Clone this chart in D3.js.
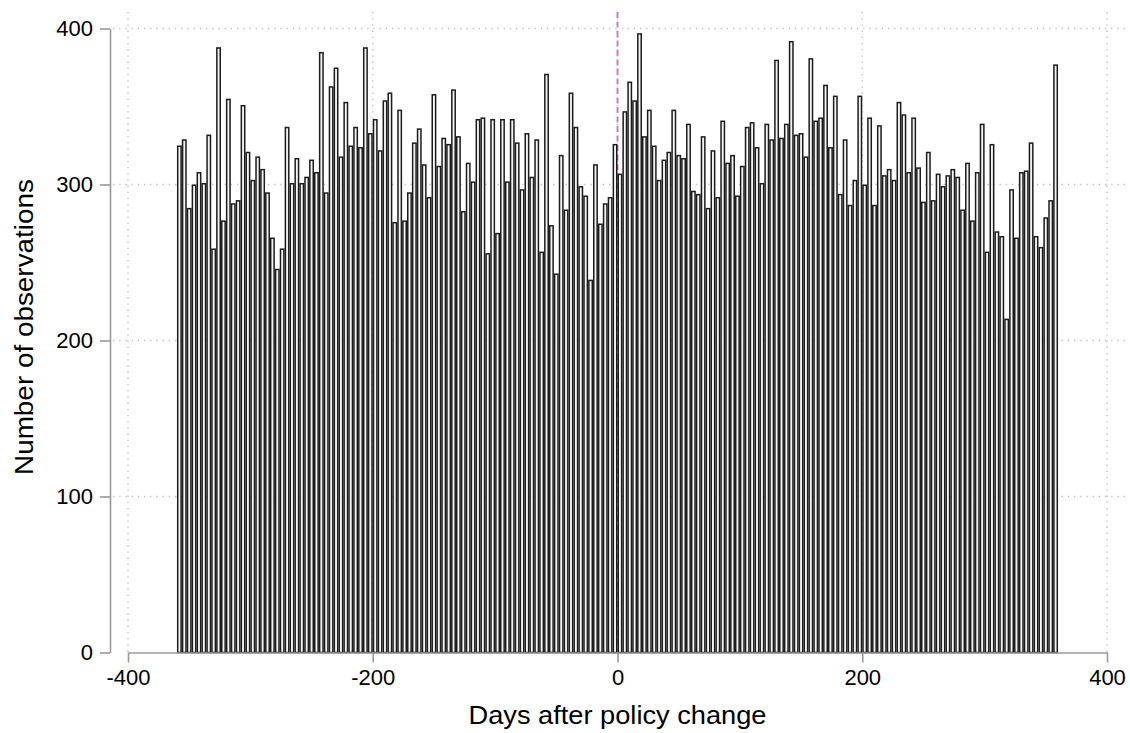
<!DOCTYPE html>
<html>
<head>
<meta charset="utf-8">
<script src="https://cdn.jsdelivr.net/npm/d3@7"></script>
<style>
  html, body { margin: 0; padding: 0; background: #fff; }
  svg { display: block; font-family: "Liberation Sans", Arial, sans-serif; }
</style>
</head>
<body>
<svg id="chart" width="1130" height="733"></svg>
<script>
// Daily observation counts, grouped in 4-day bins from day -360 to day 360
const binStart = -360;
const binWidth = 4;
const counts = [
  325, 329, 285, 300, 308, 301, 332, 259, 388, 277,
  355, 288, 290, 351, 321, 303, 318, 310, 295, 266,
  246, 259, 337, 301, 317, 301, 305, 316, 308, 385,
  295, 363, 375, 318, 353, 325, 337, 324, 388, 333,
  342, 322, 354, 359, 276, 348, 277, 295, 327, 336,
  313, 292, 358, 312, 330, 326, 361, 331, 283, 314,
  302, 342, 343, 256, 342, 269, 342, 302, 342, 327,
  297, 333, 305, 329, 257, 371, 274, 243, 319, 284,
  359, 337, 299, 293, 239, 313, 275, 288, 292, 326,
  307, 347, 366, 354, 397, 331, 348, 325, 303, 316,
  321, 348, 319, 317, 339, 296, 294, 331, 285, 322,
  292, 341, 314, 319, 293, 312, 337, 340, 324, 301,
  339, 329, 380, 330, 339, 392, 332, 333, 318, 381,
  341, 343, 364, 324, 357, 294, 329, 287, 303, 357,
  300, 343, 287, 338, 306, 310, 303, 353, 345, 308,
  343, 311, 289, 321, 290, 307, 299, 306, 310, 305,
  284, 314, 277, 308, 339, 257, 326, 270, 267, 214,
  297, 266, 308, 309, 327, 267, 260, 279, 290, 377
];
const xTicks = [-400, -200, 0, 200, 400];
const yTicks = [0, 100, 200, 300, 400];
const policyDay = 0;

const svg = d3.select("#chart");

const x = d3.scaleLinear().domain([-400, 400]).range([128, 1107]);
const y = d3.scaleLinear().domain([0, 400]).range([652.5, 28.5]);

const plotTop = 12;
const plotLeft = 113;
const plotRight = 1128;

// Dotted grid
const grid = svg.append("g").attr("stroke", "#bdbdbd").attr("stroke-width", 1.3)
  .attr("stroke-dasharray", "1.3,4.9").attr("stroke-linecap", "butt");
grid.selectAll("line.h").data(yTicks.filter(d => d > 0)).join("line")
  .attr("x1", plotLeft).attr("x2", plotRight)
  .attr("y1", d => y(d)).attr("y2", d => y(d));
grid.selectAll("line.v").data(xTicks).join("line")
  .attr("x1", d => x(d)).attr("x2", d => x(d))
  .attr("y1", plotTop).attr("y2", y(0));

// Policy change marker
svg.append("line")
  .attr("x1", x(policyDay)).attr("x2", x(policyDay))
  .attr("y1", plotTop).attr("y2", y(0))
  .attr("stroke", "#d877b6").attr("stroke-width", 1.9)
  .attr("stroke-dasharray", "6,3.5");

// Histogram bars, outlines drawn inside each bin
const sw = 1.5;
const bins = counts.map((c, i) => ({ x0: binStart + i * binWidth, x1: binStart + (i + 1) * binWidth, n: c }));
svg.append("g").selectAll("rect").data(bins).join("rect")
  .attr("x", d => x(d.x0) + sw / 2)
  .attr("width", d => x(d.x1) - x(d.x0) - sw)
  .attr("y", d => y(d.n) + sw / 2)
  .attr("height", d => y(0) - y(d.n) - sw / 2)
  .attr("fill", "#f4f4f4")
  .attr("stroke", "#1c1c1c")
  .attr("stroke-width", sw);

// Axes
const axisColor = "#9a9a9a";
const fmt = d => String(d);
const xAxis = svg.append("g").attr("transform", `translate(0,${y(0)})`)
  .call(d3.axisBottom(x).tickValues(xTicks).tickFormat(fmt).tickSize(10).tickPadding(7).tickSizeOuter(0));
const yAxis = svg.append("g").attr("transform", "translate(110,0)")
  .call(d3.axisLeft(y).tickValues(yTicks).tickFormat(fmt).tickSize(10).tickPadding(7).tickSizeOuter(0));
[xAxis, yAxis].forEach(a => {
  a.select(".domain").attr("stroke", axisColor).attr("stroke-width", 1.6);
  a.selectAll(".tick line").attr("stroke", axisColor).attr("stroke-width", 1.6);
  a.selectAll(".tick text").attr("fill", "#000").style("font-size", "22px")
    .style("font-family", "'Liberation Sans', Arial, sans-serif");
});

// Axis titles
svg.append("text")
  .attr("x", x(0)).attr("y", 724)
  .attr("text-anchor", "middle")
  .attr("textLength", 298).attr("lengthAdjust", "spacingAndGlyphs")
  .style("font-size", "25px")
  .text("Days after policy change");
svg.append("text")
  .attr("transform", "translate(33,327) rotate(-90)")
  .attr("text-anchor", "middle")
  .attr("textLength", 296).attr("lengthAdjust", "spacingAndGlyphs")
  .style("font-size", "25px")
  .text("Number of observations");
</script>
</body>
</html>
